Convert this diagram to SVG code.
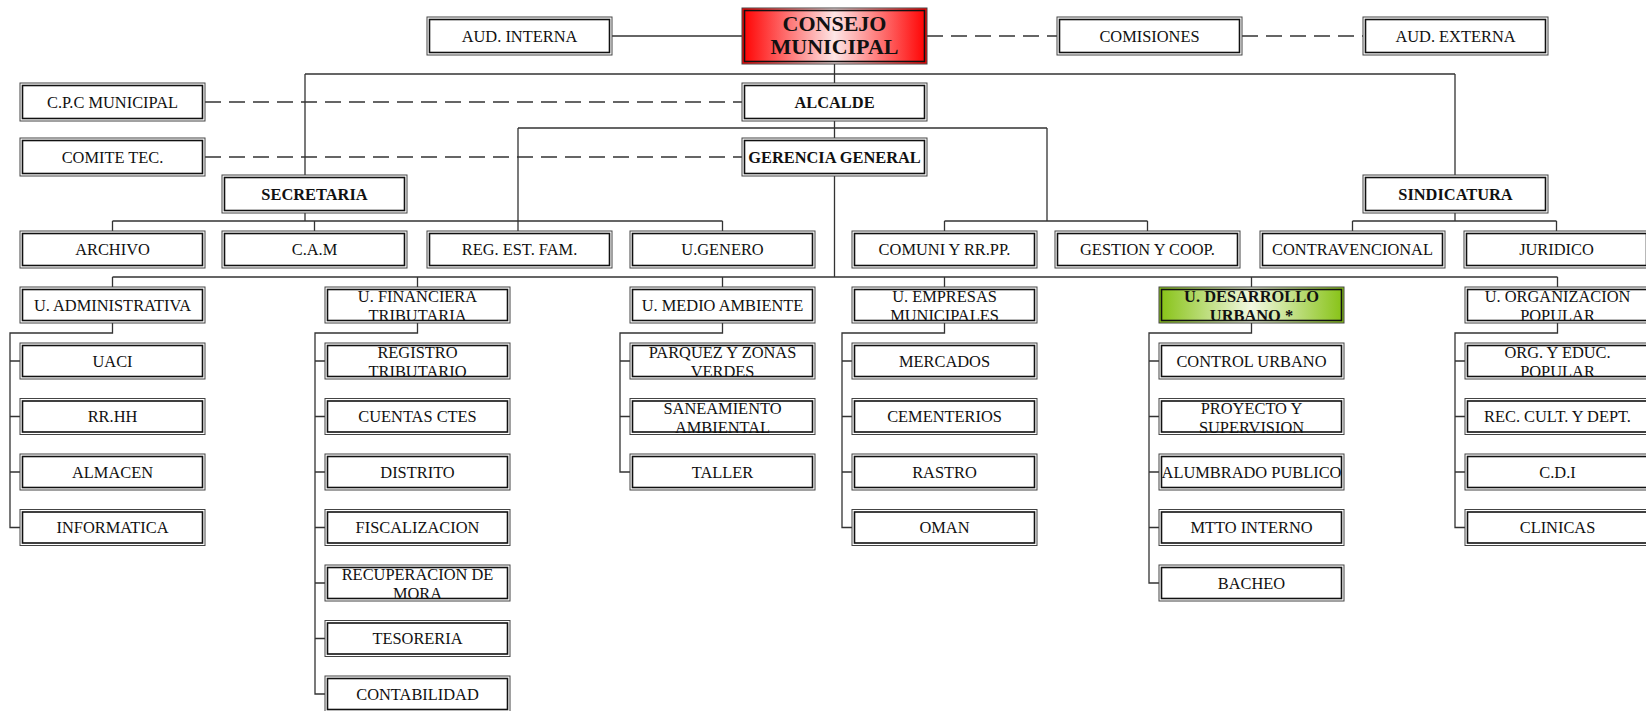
<svg xmlns="http://www.w3.org/2000/svg" width="1646" height="711" viewBox="0 0 1646 711">
<style>
.o{fill:#fff;stroke:#444;stroke-width:1}
.i{fill:none;stroke:#111;stroke-width:1.6}
.t{font-family:"Liberation Serif","Times New Roman",serif;font-size:16.4px;fill:#111;text-anchor:middle}
.b{font-weight:bold}
.big{font-size:22px;font-weight:bold}
.c{fill:none;stroke:#333;stroke-width:1.3}
.d{fill:none;stroke:#333;stroke-width:1.3;stroke-dasharray:16 8}
</style>
<defs>
<linearGradient id="gRed" x1="0" y1="0" x2="1" y2="0">
<stop offset="0" stop-color="#ff0000"/><stop offset="0.5" stop-color="#fde6e6"/><stop offset="1" stop-color="#ff0000"/>
</linearGradient>
<linearGradient id="gGreen" x1="0" y1="0" x2="1" y2="0">
<stop offset="0" stop-color="#86c214"/><stop offset="0.5" stop-color="#f2f8e2"/><stop offset="1" stop-color="#86c214"/>
</linearGradient>
</defs>

<g id="connectors">
<path class="c" d="M612 36H742"/>
<path class="d" d="M927 36H1057"/>
<path class="d" d="M1242 36H1363"/>
<path class="c" d="M834.5 64V83M305 74H1455M305 74V175M1455 74V175"/>
<path class="d" d="M205 102H742"/>
<path class="d" d="M205 157H742"/>
<path class="c" d="M834.5 121V138M518 128H1047M518 128V231M1047 128V221M944.5 221H1147.5M944.5 221V231M1147.5 221V231"/>
<path class="c" d="M305 213V221M112.5 221H722.5M112.5 221V231M314.5 221V231M722.5 221V231"/>
<path class="c" d="M1455 213V221M1352.5 221H1556.5M1352.5 221V231M1556.5 221V231"/>
<path class="c" d="M834.5 176V277M112.5 277H1557.5M112.5 277V287M417.5 277V287M722.5 277V287M944.5 277V287M1251.5 277V287M1557.5 277V287"/>
<path class="c" d="M112.5 323V333H10V527.5H20M10 361H20M10 416.5H20M10 472H20"/>
<path class="c" d="M417.5 323V333H315V694H325M315 361H325M315 416.5H325M315 472H325M315 527.5H325M315 583H325M315 638.5H325"/>
<path class="c" d="M722.5 323V333H620V472H630M620 361H630M620 416.5H630"/>
<path class="c" d="M944.5 323V333H842V527.5H852M842 361H852M842 416.5H852M842 472H852"/>
<path class="c" d="M1251.5 323V333H1149V583H1159M1149 361H1159M1149 416.5H1159M1149 472H1159M1149 527.5H1159"/>
<path class="c" d="M1557.5 323V333H1455V527.5H1465M1455 361H1465M1455 416.5H1465M1455 472H1465"/>
</g>

<g id="aud-interna"><rect class="o" x="427" y="17" width="185" height="38"/><rect class="i" x="429.5" y="19.5" width="180" height="33"/><text class="t" x="519.5" y="41.5">AUD. INTERNA</text></g>
<g id="consejo"><rect class="o" x="742" y="8" width="185" height="56" style="fill:url(#gRed)"/><rect class="i" x="744.5" y="10.5" width="180" height="51"/><text class="t big" x="834.5" y="31">CONSEJO</text><text class="t big" x="834.5" y="54">MUNICIPAL</text></g>
<g id="comisiones"><rect class="o" x="1057" y="17" width="185" height="38"/><rect class="i" x="1059.5" y="19.5" width="180" height="33"/><text class="t" x="1149.5" y="41.5">COMISIONES</text></g>
<g id="aud-externa"><rect class="o" x="1363" y="17" width="185" height="38"/><rect class="i" x="1365.5" y="19.5" width="180" height="33"/><text class="t" x="1455.5" y="41.5">AUD. EXTERNA</text></g>

<g id="cpc"><rect class="o" x="20" y="83" width="185" height="38"/><rect class="i" x="22.5" y="85.5" width="180" height="33"/><text class="t" x="112.5" y="107.5">C.P.C MUNICIPAL</text></g>
<g id="alcalde"><rect class="o" x="742" y="83" width="185" height="38"/><rect class="i" x="744.5" y="85.5" width="180" height="33"/><text class="t b" x="834.5" y="107.5">ALCALDE</text></g>
<g id="comite"><rect class="o" x="20" y="138" width="185" height="38"/><rect class="i" x="22.5" y="140.5" width="180" height="33"/><text class="t" x="112.5" y="162.5">COMITE TEC.</text></g>
<g id="gerencia"><rect class="o" x="742" y="138" width="185" height="38"/><rect class="i" x="744.5" y="140.5" width="180" height="33"/><text class="t b" x="834.5" y="162.5">GERENCIA GENERAL</text></g>
<g id="secretaria"><rect class="o" x="222" y="175" width="185" height="38"/><rect class="i" x="224.5" y="177.5" width="180" height="33"/><text class="t b" x="314.5" y="199.5">SECRETARIA</text></g>
<g id="sindicatura"><rect class="o" x="1363" y="175" width="185" height="38"/><rect class="i" x="1365.5" y="177.5" width="180" height="33"/><text class="t b" x="1455.5" y="199.5">SINDICATURA</text></g>

<g id="archivo"><rect class="o" x="20" y="231" width="185" height="37"/><rect class="i" x="22.5" y="233.5" width="180" height="32"/><text class="t" x="112.5" y="255">ARCHIVO</text></g>
<g id="cam"><rect class="o" x="222" y="231" width="185" height="37"/><rect class="i" x="224.5" y="233.5" width="180" height="32"/><text class="t" x="314.5" y="255">C.A.M</text></g>
<g id="reg-est-fam"><rect class="o" x="427" y="231" width="185" height="37"/><rect class="i" x="429.5" y="233.5" width="180" height="32"/><text class="t" x="519.5" y="255">REG. EST. FAM.</text></g>
<g id="u-genero"><rect class="o" x="630" y="231" width="185" height="37"/><rect class="i" x="632.5" y="233.5" width="180" height="32"/><text class="t" x="722.5" y="255">U.GENERO</text></g>
<g id="comuni"><rect class="o" x="852" y="231" width="185" height="37"/><rect class="i" x="854.5" y="233.5" width="180" height="32"/><text class="t" x="944.5" y="255">COMUNI Y RR.PP.</text></g>
<g id="gestion"><rect class="o" x="1055" y="231" width="185" height="37"/><rect class="i" x="1057.5" y="233.5" width="180" height="32"/><text class="t" x="1147.5" y="255">GESTION Y COOP.</text></g>
<g id="contravencional"><rect class="o" x="1260" y="231" width="185" height="37"/><rect class="i" x="1262.5" y="233.5" width="180" height="32"/><text class="t" x="1352.5" y="255">CONTRAVENCIONAL</text></g>
<g id="juridico"><rect class="o" x="1464" y="231" width="185" height="37"/><rect class="i" x="1466.5" y="233.5" width="180" height="32"/><text class="t" x="1556.5" y="255">JURIDICO</text></g>

<g id="u-admin"><rect class="o" x="20" y="287" width="185" height="36"/><rect class="i" x="22.5" y="289.5" width="180" height="31"/><text class="t" x="112.5" y="310.5">U. ADMINISTRATIVA</text></g>
<g id="u-fin"><rect class="o" x="325" y="287" width="185" height="36"/><rect class="i" x="327.5" y="289.5" width="180" height="31"/><text class="t" x="417.5" y="302">U. FINANCIERA</text><text class="t" x="417.5" y="321">TRIBUTARIA</text></g>
<g id="u-medio"><rect class="o" x="630" y="287" width="185" height="36"/><rect class="i" x="632.5" y="289.5" width="180" height="31"/><text class="t" x="722.5" y="310.5">U. MEDIO AMBIENTE</text></g>
<g id="u-empresas"><rect class="o" x="852" y="287" width="185" height="36"/><rect class="i" x="854.5" y="289.5" width="180" height="31"/><text class="t" x="944.5" y="302">U. EMPRESAS</text><text class="t" x="944.5" y="321">MUNICIPALES</text></g>
<g id="u-desarrollo"><rect class="o" x="1159" y="287" width="185" height="36" style="fill:url(#gGreen)"/><rect class="i" x="1161.5" y="289.5" width="180" height="31"/><text class="t b" x="1251.5" y="302">U. DESARROLLO</text><text class="t b" x="1251.5" y="321">URBANO *</text></g>
<g id="u-org"><rect class="o" x="1465" y="287" width="185" height="36"/><rect class="i" x="1467.5" y="289.5" width="180" height="31"/><text class="t" x="1557.5" y="302">U. ORGANIZACION</text><text class="t" x="1557.5" y="321">POPULAR</text></g>

<g id="uaci"><rect class="o" x="20" y="343" width="185" height="36"/><rect class="i" x="22.5" y="345.5" width="180" height="31"/><text class="t" x="112.5" y="366.5">UACI</text></g>
<g id="rrhh"><rect class="o" x="20" y="398.5" width="185" height="36"/><rect class="i" x="22.5" y="401" width="180" height="31"/><text class="t" x="112.5" y="422">RR.HH</text></g>
<g id="almacen"><rect class="o" x="20" y="454" width="185" height="36"/><rect class="i" x="22.5" y="456.5" width="180" height="31"/><text class="t" x="112.5" y="477.5">ALMACEN</text></g>
<g id="informatica"><rect class="o" x="20" y="509.5" width="185" height="36"/><rect class="i" x="22.5" y="512" width="180" height="31"/><text class="t" x="112.5" y="533">INFORMATICA</text></g>

<g id="registro"><rect class="o" x="325" y="343" width="185" height="36"/><rect class="i" x="327.5" y="345.5" width="180" height="31"/><text class="t" x="417.5" y="358">REGISTRO</text><text class="t" x="417.5" y="377">TRIBUTARIO</text></g>
<g id="cuentas"><rect class="o" x="325" y="398.5" width="185" height="36"/><rect class="i" x="327.5" y="401" width="180" height="31"/><text class="t" x="417.5" y="422">CUENTAS CTES</text></g>
<g id="distrito"><rect class="o" x="325" y="454" width="185" height="36"/><rect class="i" x="327.5" y="456.5" width="180" height="31"/><text class="t" x="417.5" y="477.5">DISTRITO</text></g>
<g id="fiscalizacion"><rect class="o" x="325" y="509.5" width="185" height="36"/><rect class="i" x="327.5" y="512" width="180" height="31"/><text class="t" x="417.5" y="533">FISCALIZACION</text></g>
<g id="recuperacion"><rect class="o" x="325" y="565" width="185" height="36"/><rect class="i" x="327.5" y="567.5" width="180" height="31"/><text class="t" x="417.5" y="580">RECUPERACION DE</text><text class="t" x="417.5" y="599">MORA</text></g>
<g id="tesoreria"><rect class="o" x="325" y="620.5" width="185" height="36"/><rect class="i" x="327.5" y="623" width="180" height="31"/><text class="t" x="417.5" y="644">TESORERIA</text></g>
<g id="contabilidad"><rect class="o" x="325" y="676" width="185" height="36"/><rect class="i" x="327.5" y="678.5" width="180" height="31"/><text class="t" x="417.5" y="699.5">CONTABILIDAD</text></g>

<g id="parquez"><rect class="o" x="630" y="343" width="185" height="36"/><rect class="i" x="632.5" y="345.5" width="180" height="31"/><text class="t" x="722.5" y="358">PARQUEZ Y ZONAS</text><text class="t" x="722.5" y="377">VERDES</text></g>
<g id="saneamiento"><rect class="o" x="630" y="398.5" width="185" height="36"/><rect class="i" x="632.5" y="401" width="180" height="31"/><text class="t" x="722.5" y="413.5">SANEAMIENTO</text><text class="t" x="722.5" y="432.5">AMBIENTAL</text></g>
<g id="taller"><rect class="o" x="630" y="454" width="185" height="36"/><rect class="i" x="632.5" y="456.5" width="180" height="31"/><text class="t" x="722.5" y="477.5">TALLER</text></g>

<g id="mercados"><rect class="o" x="852" y="343" width="185" height="36"/><rect class="i" x="854.5" y="345.5" width="180" height="31"/><text class="t" x="944.5" y="366.5">MERCADOS</text></g>
<g id="cementerios"><rect class="o" x="852" y="398.5" width="185" height="36"/><rect class="i" x="854.5" y="401" width="180" height="31"/><text class="t" x="944.5" y="422">CEMENTERIOS</text></g>
<g id="rastro"><rect class="o" x="852" y="454" width="185" height="36"/><rect class="i" x="854.5" y="456.5" width="180" height="31"/><text class="t" x="944.5" y="477.5">RASTRO</text></g>
<g id="oman"><rect class="o" x="852" y="509.5" width="185" height="36"/><rect class="i" x="854.5" y="512" width="180" height="31"/><text class="t" x="944.5" y="533">OMAN</text></g>

<g id="control-urbano"><rect class="o" x="1159" y="343" width="185" height="36"/><rect class="i" x="1161.5" y="345.5" width="180" height="31"/><text class="t" x="1251.5" y="366.5">CONTROL URBANO</text></g>
<g id="proyecto"><rect class="o" x="1159" y="398.5" width="185" height="36"/><rect class="i" x="1161.5" y="401" width="180" height="31"/><text class="t" x="1251.5" y="413.5">PROYECTO Y</text><text class="t" x="1251.5" y="432.5">SUPERVISION</text></g>
<g id="alumbrado"><rect class="o" x="1159" y="454" width="185" height="36"/><rect class="i" x="1161.5" y="456.5" width="180" height="31"/><text class="t" x="1251.5" y="477.5">ALUMBRADO PUBLICO</text></g>
<g id="mtto"><rect class="o" x="1159" y="509.5" width="185" height="36"/><rect class="i" x="1161.5" y="512" width="180" height="31"/><text class="t" x="1251.5" y="533">MTTO INTERNO</text></g>
<g id="bacheo"><rect class="o" x="1159" y="565" width="185" height="36"/><rect class="i" x="1161.5" y="567.5" width="180" height="31"/><text class="t" x="1251.5" y="588.5">BACHEO</text></g>

<g id="org-educ"><rect class="o" x="1465" y="343" width="185" height="36"/><rect class="i" x="1467.5" y="345.5" width="180" height="31"/><text class="t" x="1557.5" y="358">ORG. Y EDUC.</text><text class="t" x="1557.5" y="377">POPULAR</text></g>
<g id="rec-cult"><rect class="o" x="1465" y="398.5" width="185" height="36"/><rect class="i" x="1467.5" y="401" width="180" height="31"/><text class="t" x="1557.5" y="422">REC. CULT. Y DEPT.</text></g>
<g id="cdi"><rect class="o" x="1465" y="454" width="185" height="36"/><rect class="i" x="1467.5" y="456.5" width="180" height="31"/><text class="t" x="1557.5" y="477.5">C.D.I</text></g>
<g id="clinicas"><rect class="o" x="1465" y="509.5" width="185" height="36"/><rect class="i" x="1467.5" y="512" width="180" height="31"/><text class="t" x="1557.5" y="533">CLINICAS</text></g>
</svg>
